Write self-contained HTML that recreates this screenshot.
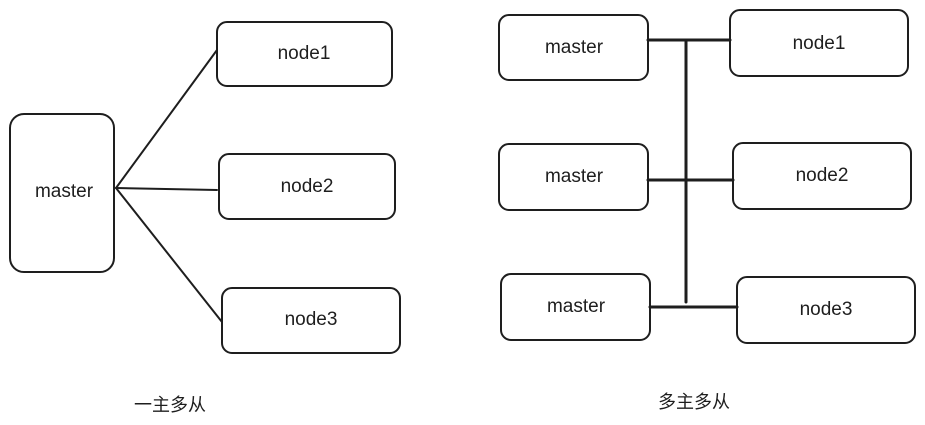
<!DOCTYPE html>
<html><head><meta charset="utf-8"><style>
body{margin:0;background:#fff;width:925px;height:425px;overflow:hidden;font-family:"Liberation Sans","Noto Sans CJK SC",sans-serif;}
</style></head><body>
<svg width="925" height="425" xmlns="http://www.w3.org/2000/svg" style="position:absolute;left:0;top:0">
<g fill="none" stroke="#1e1e1e" stroke-width="2" stroke-linecap="round">
<rect x="10" y="114" width="104" height="158" rx="14"/>
<rect x="217" y="22" width="175" height="64" rx="10"/>
<rect x="219" y="154" width="176" height="65" rx="10"/>
<rect x="222" y="288" width="178" height="65" rx="10"/>
<line x1="116" y1="188" x2="217" y2="50"/>
<line x1="116" y1="188" x2="217" y2="190"/>
<line x1="116" y1="188" x2="222" y2="322"/>
<rect x="499" y="15" width="149" height="65" rx="10"/>
<rect x="499" y="144" width="149" height="66" rx="10"/>
<rect x="501" y="274" width="149" height="66" rx="10"/>
<rect x="730" y="10" width="178" height="66" rx="10"/>
<rect x="733" y="143" width="178" height="66" rx="10"/>
<rect x="737" y="277" width="178" height="66" rx="10"/>
<g stroke-width="3">
<line x1="686" y1="40" x2="686" y2="302"/>
<line x1="648" y1="40" x2="730" y2="40"/>
<line x1="648" y1="180" x2="733" y2="180"/>
<line x1="650" y1="307" x2="737" y2="307"/>
</g>
</g>
<g font-size="19" fill="#1e1e1e" text-anchor="middle" dominant-baseline="middle">
<text x="64" y="192">master</text>
<text x="304" y="54">node1</text>
<text x="307" y="187">node2</text>
<text x="311" y="320">node3</text>
<text x="574" y="48">master</text>
<text x="574" y="177">master</text>
<text x="576" y="307">master</text>
<text x="819" y="44">node1</text>
<text x="822" y="176">node2</text>
<text x="826" y="310">node3</text>
</g>
<g font-size="18" fill="#1e1e1e" text-anchor="middle" dominant-baseline="middle">
<text x="170" y="406">一主多从</text>
<text x="694" y="403">多主多从</text>
</g>
</svg>
</body></html>
